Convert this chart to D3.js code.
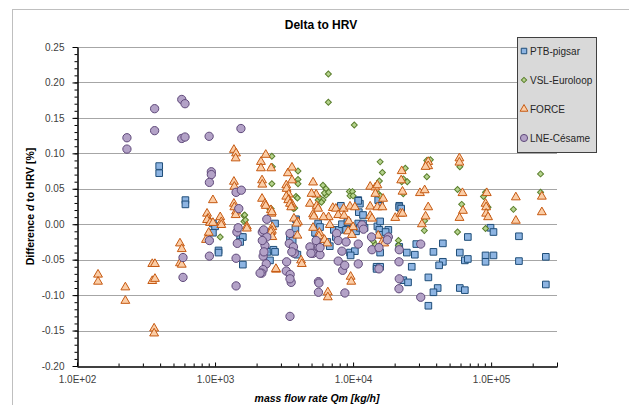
<!DOCTYPE html>
<html>
<head>
<meta charset="utf-8">
<script src="https://cdn.jsdelivr.net/npm/d3@7"></script>
<style>
  body { margin: 0; background: #fff; }
  svg { display: block; font-family: "Liberation Sans", Arial, sans-serif; }
</style>
</head>
<body>
<div id="chart"></div>
<script>
// series data: [mass flow rate Qm (kg/h), difference d to HRV (%)]
const ptb = [
  [394, 0.082], [394, 0.072], [610, 0.034], [610, 0.028],
  [965, 0.001], [1000, -0.003], [965, -0.012], [1060, -0.037], [1060, -0.040],
  [1520, -0.018], [1590, -0.018], [1520, -0.025], [1590, -0.057],
  [2330, -0.037], [2400, -0.039], [2500, -0.051], [2650, -0.036], [2720, -0.039], [2720, 0.001],
  [3490, -0.020], [3580, -0.027], [3780, -0.041], [3950, -0.043], [3650, -0.023], [3860, 0.007], [3820, -0.006],
  [5400, -0.006], [5400, -0.013], [5580, -0.018], [5580, 0.001], [5760, -0.004], [5300, -0.012],
  [6780, -0.031], [6500, -0.025],
  [7250, -0.008], [7500, -0.018], [7900, -0.008], [8300, 0.000], [8900, -0.008], [9100, 0.003],
  [9700, -0.008], [10500, -0.010], [10900, 0.001], [11200, -0.005], [11800, 0.001], [12100, -0.005],
  [10900, 0.034], [11200, 0.029], [11000, 0.017], [11800, 0.013],
  [15200, 0.034], [15700, 0.026],
  [15000, -0.003], [15500, -0.008], [15700, 0.004], [16200, -0.015], [18000, -0.008], [17200, -0.011],
  [9500, -0.040], [10300, -0.038], [9600, -0.044], [15700, -0.040],
  [14800, -0.060], [15700, -0.060], [14800, -0.063],
  [8150, 0.026], [10900, 0.033],
  [21600, 0.026], [21600, 0.024], [22300, 0.022],
  [21600, -0.032], [24500, -0.040], [28000, -0.043], [28700, -0.028],
  [44700, -0.027], [38200, -0.039], [44700, -0.053], [42000, -0.058],
  [26600, -0.060], [23100, -0.079], [25000, -0.082],
  [35100, -0.075], [41000, -0.090], [38200, -0.096], [35100, -0.115],
  [67800, -0.018], [59300, -0.040], [64500, -0.051], [67800, -0.049],
  [59300, -0.090], [64500, -0.093],
  [99000, -0.005], [104000, -0.011],
  [91100, -0.044], [104000, -0.044], [91100, -0.053],
  [159000, -0.017], [159000, -0.052],
  [249000, -0.046], [249000, -0.085]
];

const vsl = [
  [1090, 0.001], [1090, -0.018], [1620, 0.012], [1620, 0.004], [1640, 0.013], [1660, 0.006],
  [2500, 0.021], [2550, 0.022], [2580, 0.096], [2600, 0.081], [2580, 0.057],
  [3700, 0.022], [3780, 0.023], [3860, 0.039], [3950, 0.037], [3990, 0.075], [3990, 0.063], [3990, 0.057],
  [5580, 0.034], [5760, 0.037], [6050, 0.034], [5900, 0.031], [6360, 0.041], [6050, 0.055],
  [6360, 0.050], [6200, 0.044], [6650, 0.045],
  [6620, 0.212], [6620, 0.172], [10200, 0.140],
  [9400, 0.046], [9900, 0.046], [9500, 0.040], [10000, 0.040],
  [15200, 0.043], [15700, 0.040], [15700, 0.088], [16300, 0.073], [15500, 0.061],
  [14000, -0.024], [14500, -0.029], [21300, -0.023], [21300, -0.030],
  [23100, 0.043], [23100, 0.064], [23900, 0.079], [22500, 0.060], [24700, 0.060],
  [33000, 0.005], [32800, -0.009],
  [34200, 0.090], [36300, 0.091], [34200, 0.067],
  [59300, 0.081], [57100, 0.049], [61200, 0.028], [57100, -0.011],
  [91100, 0.045], [88000, 0.039], [95000, 0.024], [91100, -0.006],
  [145000, 0.021], [228000, 0.071], [228000, 0.045]
];

const force = [
  [142, -0.071], [142, -0.081], [224, -0.089], [224, -0.108],
  [351, -0.056], [367, -0.056], [351, -0.080], [367, -0.077], [362, -0.147], [362, -0.154],
  [557, -0.027], [574, -0.035], [557, -0.055], [574, -0.057],
  [1370, 0.105], [1420, 0.100], [1410, 0.093], [1370, 0.060], [1380, 0.053],
  [1370, 0.029], [1380, 0.024], [1420, 0.018], [1410, 0.013],
  [875, 0.015], [890, 0.008], [920, 0.003], [1090, 0.010], [1110, 0.003], [965, 0.034],
  [875, 0.006], [920, 0.002], [965, 0.002], [1110, -0.001], [900, -0.012], [860, -0.022],
  [1700, -0.003], [1700, -0.006],
  [2150, 0.088], [2150, 0.079], [2190, 0.062], [2200, 0.056], [2330, 0.098], [2190, 0.036],
  [2300, 0.029], [2330, 0.026],
  [2540, 0.020], [2560, 0.015], [2550, 0.079], [2580, 0.017], [2600, -0.004], [2580, -0.009],
  [2540, -0.011], [2600, -0.018],
  [2770, -0.064], [2760, -0.063],
  [3280, 0.055], [3300, 0.050], [3370, 0.072], [3610, 0.080], [3610, 0.062], [3420, 0.042],
  [3420, 0.035], [3610, 0.028],
  [3280, 0.039], [3390, 0.034], [3490, 0.029], [3560, 0.024],
  [3730, 0.008], [3990, 0.003], [3950, -0.016], [3900, 0.001],
  [4200, -0.051], [4250, -0.056],
  [5130, 0.059], [5400, 0.042], [4870, 0.029], [5450, 0.026], [5580, 0.022], [5130, 0.014],
  [5200, 0.011], [5130, -0.005], [5700, -0.012], [5650, -0.017], [6200, -0.022], [6500, -0.027],
  [7130, 0.023], [6650, 0.010], [6100, 0.010], [6780, -0.001],
  [5000, 0.043],
  [6560, -0.096], [6560, -0.103],
  [7500, 0.022], [8540, 0.022], [9500, 0.025], [10300, 0.024],
  [7800, 0.013], [8600, 0.012], [9300, 0.004], [10000, -0.004], [9200, -0.010], [9800, -0.015],
  [9600, -0.074], [9700, -0.081],
  [13300, 0.053], [14500, 0.052], [15000, 0.055], [16500, 0.036],
  [13300, 0.025], [15000, 0.024], [16300, 0.024],
  [13300, 0.012], [13700, 0.008], [20200, 0.009], [22000, 0.015], [22800, 0.015],
  [15200, -0.016], [16300, -0.025], [16800, -0.027],
  [22500, 0.075], [22300, 0.062],
  [14500, 0.043],
  [35000, 0.088], [35000, 0.082], [33500, 0.081],
  [35000, 0.024], [33500, 0.011], [31500, 0.000],
  [22800, 0.046], [30500, 0.044], [33000, 0.048],
  [58900, 0.093], [58900, 0.087], [62000, 0.044],
  [62500, 0.019], [59000, 0.009],
  [93000, 0.044], [91100, 0.029], [92000, 0.024], [92000, 0.015], [95000, 0.010],
  [151000, 0.038], [151000, 0.005],
  [233000, 0.039], [233000, 0.017]
];

const lne = [
  [230, 0.122], [230, 0.106], [365, 0.163], [365, 0.132], [574, 0.176], [606, 0.170],
  [574, 0.121], [606, 0.123], [906, 0.124], [1540, 0.135],
  [940, 0.074], [940, 0.070], [910, 0.059], [1420, 0.045], [1550, 0.048],
  [586, -0.047], [586, -0.075], [910, -0.023], [910, -0.045],
  [1486, 0.022], [1440, -0.011], [1470, -0.005], [1450, -0.027], [1420, -0.048], [1420, -0.087],
  [2370, 0.007], [2200, -0.011], [2370, -0.018], [2300, -0.030], [2230, -0.045], [2350, -0.056],
  [2230, -0.064], [2180, -0.069], [2120, -0.069],
  [2250, -0.008], [2200, -0.023], [2260, -0.039],
  [3490, -0.013], [3450, -0.027], [3700, -0.032], [3750, -0.041], [3300, -0.053], [3280, -0.066],
  [3500, -0.071], [3560, -0.082], [3490, -0.130], [3600, -0.039], [3490, -0.077],
  [4870, -0.032], [5130, -0.041], [5600, -0.032], [5760, -0.043], [5400, -0.023],
  [5610, -0.081], [5610, -0.096], [4950, -0.041], [5760, -0.033],
  [5660, -0.083],
  [7600, -0.013], [7800, -0.023], [8900, -0.025], [8300, -0.038], [7800, -0.052],
  [8400, -0.065], [8700, -0.058], [8720, -0.097],
  [10900, -0.028], [10900, -0.056],
  [11600, -0.001], [11900, -0.007],
  [13600, -0.018], [13700, -0.036], [15400, -0.033], [15400, -0.063],
  [18000, -0.018], [17700, -0.022],
  [21600, -0.036], [21500, -0.053], [21600, -0.077], [21500, -0.091],
  [30900, -0.028], [30900, -0.103]
];

const seriesNames = ["PTB-pigsar", "VSL-Euroloop", "FORCE", "LNE-Césame"];
const yTicks = [-0.20, -0.15, -0.10, -0.05, 0.00, 0.05, 0.10, 0.15, 0.20, 0.25];
const xTicks = [1e2, 1e3, 1e4, 1e5];
const xTickLabels = ["1.0E+02", "1.0E+03", "1.0E+04", "1.0E+05"];

const width = 629;
const height = 405;
const margin = { top: 47, right: 72, bottom: 39, left: 77 };

const svg = d3.select("#chart").append("svg")
  .attr("width", width)
  .attr("height", height);

// chart frame
svg.append("rect")
  .attr("x", 12.5).attr("y", 9.5)
  .attr("width", 640).attr("height", 420)
  .attr("fill", "none").attr("stroke", "#bfbfbf");

const x = d3.scaleLog()
  .domain([100, 300000])
  .range([margin.left, width - margin.right]);

const y = d3.scaleLinear()
  .domain([-0.2, 0.25])
  .range([height - margin.bottom, margin.top]);

// gridlines
svg.append("g")
  .selectAll("line")
  .data(yTicks.slice(1))
  .join("line")
  .attr("x1", margin.left).attr("x2", width - margin.right)
  .attr("y1", (d) => Math.round(y(d)) + 0.5)
  .attr("y2", (d) => Math.round(y(d)) + 0.5)
  .attr("stroke", "#a6a6a6");

// y axis with minor ticks
const yMinor = d3.range(-20, 26).map((i) => i / 100);
svg.append("g")
  .attr("transform", `translate(${margin.left + 0.5},0)`)
  .call(d3.axisLeft(y).tickValues(yMinor).tickSize(3).tickFormat(""))
  .call((g) => g.select(".domain").remove());

svg.append("g")
  .attr("transform", `translate(${margin.left + 0.5},0)`)
  .call(d3.axisLeft(y).tickValues(yTicks).tickSize(5).tickSizeOuter(0).tickPadding(8)
    .tickFormat((d) => d.toFixed(2)))
  .call((g) => g.selectAll("text").attr("font-size", 10).attr("fill", "#404040"))
  .call((g) => g.select(".domain").attr("stroke-width", 1.5));

// x axis (log) with minor ticks, drawn inward
const xMinor = [];
[100, 1000, 10000, 100000].forEach((dec) => {
  for (let k = 2; k <= 9; k++) if (dec * k <= 300000) xMinor.push(dec * k);
});
svg.append("g")
  .attr("transform", `translate(0,${height - margin.bottom + 0.5})`)
  .call(d3.axisTop(x).tickValues(xMinor).tickSize(3).tickFormat(""))
  .call((g) => g.select(".domain").remove());

svg.append("g")
  .attr("transform", `translate(0,${height - margin.bottom + 0.5})`)
  .call(d3.axisBottom(x).tickValues(xTicks).tickSize(0).tickSizeOuter(0).tickPadding(9)
    .tickFormat((d, i) => xTickLabels[i]))
  .call((g) => g.selectAll("text").attr("font-size", 10).attr("fill", "#404040"))
  .call((g) => g.select(".domain").attr("stroke-width", 1.5));

svg.append("g")
  .attr("transform", `translate(0,${height - margin.bottom + 0.5})`)
  .call(d3.axisTop(x).tickValues(xTicks.concat([300000])).tickSize(4).tickFormat(""))
  .call((g) => g.select(".domain").remove());

// markers (diamond = square turned 45 degrees)
const styles = [
  { type: d3.symbolSquare, size: 44, rot: 0, fill: "#8db4e2", stroke: "#1f4e79" },
  { type: d3.symbolSquare, size: 18, rot: 45, fill: "#b5d38d", stroke: "#5a7e2c" },
  { type: d3.symbolTriangle, size: 34, rot: 0, fill: "#fbcda6", stroke: "#c65911" },
  { type: d3.symbolCircle, size: 54, rot: 0, fill: "#b3a2c7", stroke: "#5f497a" }
];

[ptb, vsl, force, lne].forEach((data, i) => {
  const s = styles[i];
  svg.append("g")
    .selectAll("path")
    .data(data)
    .join("path")
    .attr("d", d3.symbol().type(s.type).size(s.size))
    .attr("transform", (d) => `translate(${x(d[0])},${y(d[1])}) rotate(${s.rot})`)
    .attr("fill", s.fill)
    .attr("stroke", s.stroke)
    .attr("stroke-width", 1);
});

// title
svg.append("text")
  .attr("x", 321).attr("y", 29)
  .attr("text-anchor", "middle")
  .attr("font-size", 12).attr("font-weight", "bold")
  .text("Delta to HRV");

// axis titles
svg.append("text")
  .attr("transform", `translate(34,${(margin.top + height - margin.bottom) / 2}) rotate(-90)`)
  .attr("text-anchor", "middle")
  .attr("font-size", 10.5).attr("font-weight", "bold")
  .call((t) => {
    t.append("tspan").text("Difference ");
    t.append("tspan").attr("font-style", "italic").text("d");
    t.append("tspan").text(" to HRV [%]");
  });

svg.append("text")
  .attr("x", (margin.left + width - margin.right) / 2).attr("y", 402)
  .attr("text-anchor", "middle")
  .attr("font-size", 10.5).attr("font-weight", "bold").attr("font-style", "italic")
  .text("mass flow rate Qm [kg/h]");

// legend
const legend = svg.append("g");
legend.append("rect")
  .attr("x", 517.5).attr("y", 37.5)
  .attr("width", 79).attr("height", 115)
  .attr("fill", "#d9d9d9").attr("stroke", "#404040");

const legendSym = [30, 14, 26, 40];
seriesNames.forEach((name, i) => {
  const s = styles[i];
  const ly = 51 + i * 29;
  legend.append("path")
    .attr("d", d3.symbol().type(s.type).size(legendSym[i]))
    .attr("transform", `translate(524,${ly}) rotate(${s.rot})`)
    .attr("fill", s.fill).attr("stroke", s.stroke);
  legend.append("text")
    .attr("x", 530).attr("y", ly + 3.5)
    .attr("font-size", 10).attr("fill", "#262626")
    .text(name);
});
</script>
</body>
</html>
